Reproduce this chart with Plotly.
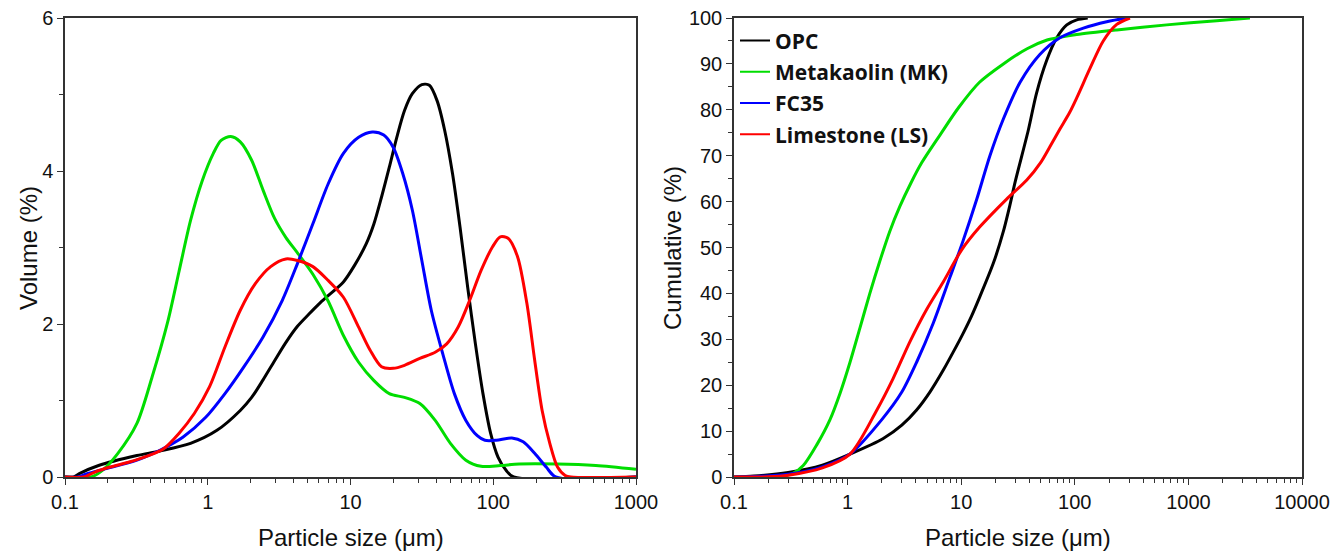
import plotly.graph_objects as go

# ---------------- Data: particle size distributions ----------------
names = ["OPC", "Metakaolin (MK)", "FC35", "Limestone (LS)"]
colors = ["#000000", "#00dd00", "#0000ff", "#ff0000"]

# Volume (%) – left panel
opc_size = [0.1, 0.115, 0.126, 0.172, 0.319, 0.462, 0.757, 1.16, 1.69, 2.03, 2.44, 2.94, 3.53,
            4.25, 5.12, 6.0, 6.97, 8.92, 10.7, 12.9, 14.6, 16.5, 18.7, 21.1, 23.9, 27.1, 31.6,
            35.7, 40.4, 45.7, 51.8, 58.5, 66.2, 75.0, 84.7, 95.9, 108, 123, 139, 1000]
opc_vol = [0, 0, 0.044, 0.15, 0.28, 0.34, 0.44, 0.61, 0.87, 1.04, 1.27, 1.52, 1.76,
           1.97, 2.13, 2.26, 2.37, 2.55, 2.77, 3.05, 3.31, 3.66, 4.05, 4.44, 4.79, 5.01, 5.13,
           5.12, 4.92, 4.53, 3.97, 3.27, 2.48, 1.74, 1.09, 0.57, 0.26, 0.087, 0, 0]

mk_size = [0.1, 0.152, 0.183, 0.234, 0.319, 0.408, 0.523, 0.628, 0.757, 0.910, 1.094, 1.24, 1.45,
           1.69, 2.03, 2.44, 2.94, 3.53, 4.25, 5.45, 6.97, 8.92, 11.4, 14.6, 18.7, 23.9, 30.6,
           39.2, 50.1, 64.3, 82.2, 112, 152, 282, 523, 1000]
mk_vol = [0, 0, 0.087, 0.305, 0.70, 1.31, 2.02, 2.68, 3.35, 3.86, 4.23, 4.40, 4.45,
          4.38, 4.14, 3.75, 3.38, 3.13, 2.93, 2.65, 2.30, 1.85, 1.50, 1.26, 1.09, 1.04, 0.96,
          0.74, 0.44, 0.22, 0.14, 0.15, 0.17, 0.17, 0.15, 0.10]

fc_size = [0.1, 0.123, 0.143, 0.195, 0.319, 0.462, 0.669, 0.968, 1.32, 1.79, 2.44, 3.33, 4.25,
           5.45, 6.97, 8.92, 11.4, 14.2, 17.1, 19.9, 23.2, 27.1, 31.6, 36.8, 44.3, 53.4, 64.3,
           77.3, 87.5, 105, 135, 162, 195, 235, 274, 1000]
fc_vol = [0, 0, 0.044, 0.11, 0.22, 0.35, 0.52, 0.78, 1.09, 1.44, 1.83, 2.31, 2.79,
          3.31, 3.83, 4.23, 4.44, 4.51, 4.47, 4.31, 3.97, 3.49, 2.83, 2.18, 1.61, 1.09, 0.74,
          0.54, 0.48, 0.48, 0.51, 0.46, 0.31, 0.13, 0, 0]

ls_size = [0.1, 0.135, 0.162, 0.207, 0.282, 0.384, 0.491, 0.628, 0.805, 1.03, 1.32, 1.69, 2.16,
           2.76, 3.53, 4.25, 5.45, 6.97, 8.92, 11.4, 13.7, 16.5, 19.9, 23.9, 30.6, 39.2, 47.2,
           56.8, 68.4, 82.2, 98.9, 112, 127, 148, 172, 195, 220, 249, 282, 319, 350, 1000]
ls_vol = [0, 0, 0.065, 0.13, 0.196, 0.28, 0.37, 0.57, 0.83, 1.18, 1.70, 2.18, 2.53,
          2.75, 2.85, 2.83, 2.75, 2.57, 2.35, 1.96, 1.66, 1.44, 1.42, 1.46, 1.55, 1.63, 1.74,
          1.96, 2.31, 2.70, 3.01, 3.14, 3.12, 2.88, 2.27, 1.53, 0.87, 0.44, 0.13, 0.02, 0, 0]

# Cumulative (%) – right panel
opc_csize = [0.1, 0.15, 0.3, 0.6, 1.05, 2.06, 3.0, 4.05, 5.3, 6.96, 8.5, 10.4, 12.3, 14.6, 19.2,
             23.5, 27.0, 30.0, 39, 46, 56.6, 69, 85, 104, 130]
opc_cum = [0, 0.2, 1.0, 2.6, 5.0, 8.4, 11.3, 14.6, 18.5, 23.3, 27.2, 31.3, 35.0, 39.3, 46.6,
           53.5, 59.5, 64.5, 75.6, 83.6, 90.8, 95.6, 98.5, 99.6, 100]

mk_csize = [0.1, 0.25, 0.33, 0.407, 0.535, 0.70, 0.857, 1.05, 1.285, 1.57, 1.92, 2.35, 2.89, 3.6,
            4.5, 6.5, 9.5, 14.5, 23.5, 38, 57, 74, 104, 234, 644, 1775, 3480]
mk_cum = [0, 0.1, 0.8, 2.5, 7.0, 12.5, 18.2, 25.0, 32.5, 40.0, 47.0, 53.5, 59.0, 64.0,
          68.5, 74.5, 80.5, 86.0, 90.0, 93.3, 95.2, 95.8, 96.4, 97.4, 98.5, 99.4, 100]

fc_csize = [0.1, 0.15, 0.3, 0.6, 1.05, 2.0, 3.0, 4.05, 5.67, 7.96, 10.4, 13.7, 17.9, 23.5, 33,
            49, 74, 119, 191, 286]
fc_cum = [0, 0.1, 0.6, 2.2, 5.0, 12.5, 18.5, 25.0, 33.5, 43.5, 51.5, 60.5, 70.0, 78.0, 86.0,
          92.0, 95.7, 97.8, 99.2, 100]

ls_csize = [0.1, 0.2, 0.3, 0.6, 1.05, 1.8, 2.52, 3.54, 4.96, 6.95, 10.1, 14.6, 25, 37.8, 50,
            60.5, 74, 90, 104, 136, 178, 234, 306]
ls_cum = [0, 0.05, 0.4, 2.0, 5.0, 14.5, 21.5, 29.5, 36.5, 42.5, 49.5, 54.5, 60.5, 64.7, 68.5,
          72.0, 75.8, 79.4, 82.6, 89.0, 95.0, 98.6, 100]

vol_sizes = [opc_size, mk_size, fc_size, ls_size]
vol_vals = [opc_vol, mk_vol, fc_vol, ls_vol]
cum_sizes = [opc_csize, mk_csize, fc_csize, ls_csize]
cum_vals = [opc_cum, mk_cum, fc_cum, ls_cum]

W, H = 1340, 551
ML, MR, MT, MB = 0, 0, 18, 74

fig = go.Figure()

for i in range(4):
    fig.add_trace(go.Scatter(x=vol_sizes[i], y=vol_vals[i], mode="lines",
                             line=dict(color=colors[i], width=3, shape="spline", smoothing=0.8),
                             showlegend=False, xaxis="x", yaxis="y"))
for i in range(4):
    fig.add_trace(go.Scatter(x=cum_sizes[i], y=cum_vals[i], mode="lines",
                             line=dict(color=colors[i], width=3, shape="spline", smoothing=0.8),
                             showlegend=False, xaxis="x2", yaxis="y2"))
# legend entries (thinner sample lines)
for i in range(4):
    fig.add_trace(go.Scatter(x=[None], y=[None], mode="lines", name=names[i],
                             line=dict(color=colors[i], width=2),
                             legendgroup=f"g{i}", showlegend=True, xaxis="x2", yaxis="y2"))

axis_common = dict(showline=True, linecolor="#333333", linewidth=1.5, mirror=True,
                   ticks="outside", ticklen=6, tickwidth=1.2, tickcolor="#333333",
                   showgrid=False, zeroline=False, automargin=False,
                   tickfont=dict(family="Liberation Sans, Arial", size=20, color="#111111"))

fig.update_layout(
    width=W, height=H, autosize=False,
    margin=dict(l=ML, r=MR, t=MT, b=MB, autoexpand=False),
    paper_bgcolor="white", plot_bgcolor="white",
    xaxis=dict(type="log", range=[-1, 3], domain=[65 / W, 636 / W], anchor="y",
               tickvals=[0.1, 1, 10, 100, 1000], ticktext=["0.1", "1", "10", "100", "1000"],
               minor=dict(ticks="outside", ticklen=4, tickcolor="#333333", dtick="D1"),
               **axis_common),
    yaxis=dict(range=[0, 6], domain=[0, 1], anchor="x", dtick=2,
               minor=dict(ticks="outside", ticklen=4, tickcolor="#333333", dtick=1),
               **axis_common),
    xaxis2=dict(type="log", range=[-1, 4], domain=[734 / W, 1302 / W], anchor="y2",
                tickvals=[0.1, 1, 10, 100, 1000, 10000],
                ticktext=["0.1", "1", "10", "100", "1000", "10000"],
                minor=dict(ticks="outside", ticklen=4, tickcolor="#333333", dtick="D1"),
                **axis_common),
    yaxis2=dict(range=[0, 100], domain=[0, 1], anchor="x2", dtick=10,
                minor=dict(ticks="outside", ticklen=4, tickcolor="#333333", dtick=5),
                **axis_common),
    legend=dict(x=735 / W, xanchor="left", y=0.995, yanchor="top",
                bgcolor="rgba(0,0,0,0)", tracegroupgap=1, itemwidth=30,
                font=dict(family="Open Sans", size=21, color="#111111", weight="bold")),
)

title_font = dict(family="Liberation Sans, Arial", size=24, color="#111111")
ph = H - MT - MB
fig.add_annotation(text="Particle size (μm)", x=(65 + 636) / 2 / W, y=(477 - 537) / ph,
                   xref="paper", yref="paper", showarrow=False, font=title_font,
                   xanchor="center", yanchor="middle")
fig.add_annotation(text="Particle size (μm)", x=(734 + 1302) / 2 / W, y=(477 - 537) / ph,
                   xref="paper", yref="paper", showarrow=False, font=title_font,
                   xanchor="center", yanchor="middle")
fig.add_annotation(text="Volume (%)", x=28 / W, y=(477 - 248) / ph, textangle=-90,
                   xref="paper", yref="paper", showarrow=False, font=title_font,
                   xanchor="center", yanchor="middle")
fig.add_annotation(text="Cumulative (%)", x=672 / W, y=(477 - 248) / ph, textangle=-90,
                   xref="paper", yref="paper", showarrow=False, font=title_font,
                   xanchor="center", yanchor="middle")

fig.write_html(
    "out.html",
    config={"responsive": False},
    post_script="document.body.style.margin='0';document.body.style.overflow='hidden';",
)
